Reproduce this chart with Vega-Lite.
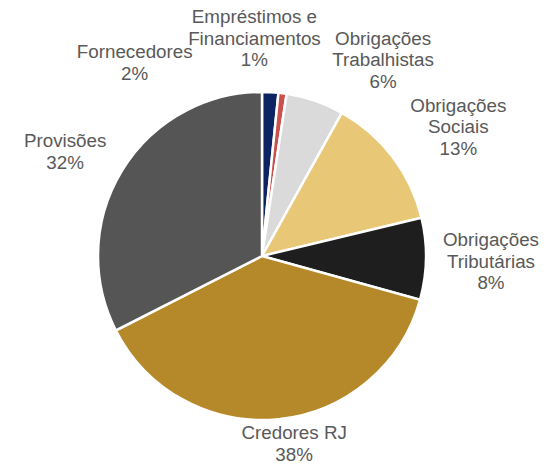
{
  "$schema": "https://vega.github.io/schema/vega-lite/v6.json",
  "width": 524,
  "height": 416,
  "autosize": {"type": "none"},
  "padding": {"left": 0, "top": 48, "right": 21, "bottom": 0},
  "background": "white",
  "view": {"stroke": null},
  "config": {
    "text": {"font": "Liberation Sans", "fontSize": 18.8, "fill": "#595959", "lineBreak": "\n", "lineHeight": 21.5, "baseline": "middle", "align": "center"}
  },
  "data": {
    "values": [
      {"ordem": 1, "categoria": "Fornecedores", "valor": 1.6, "rotulo": "Fornecedores\n2%"},
      {"ordem": 2, "categoria": "Empréstimos e Financiamentos", "valor": 0.8, "rotulo": "Empréstimos e\nFinanciamentos\n1%"},
      {"ordem": 3, "categoria": "Obrigações Trabalhistas", "valor": 5.7, "rotulo": "Obrigações\nTrabalhistas\n6%"},
      {"ordem": 4, "categoria": "Obrigações Sociais", "valor": 13.15, "rotulo": "Obrigações\nSociais\n13%"},
      {"ordem": 5, "categoria": "Obrigações Tributárias", "valor": 8.05, "rotulo": "Obrigações\nTributárias\n8%"},
      {"ordem": 6, "categoria": "Credores RJ", "valor": 38.2, "rotulo": "Credores RJ\n38%"},
      {"ordem": 7, "categoria": "Provisões", "valor": 32.5, "rotulo": "Provisões\n32%"}
    ]
  },
  "encoding": {
    "theta": {"field": "valor", "type": "quantitative", "stack": true},
    "order": {"field": "ordem", "type": "quantitative"}
  },
  "layer": [
    {
      "mark": {"type": "arc", "outerRadius": 164, "stroke": "white", "strokeWidth": 2.5},
      "encoding": {
        "color": {
          "field": "categoria",
          "type": "nominal",
          "legend": null,
          "scale": {
            "domain": ["Fornecedores", "Empréstimos e Financiamentos", "Obrigações Trabalhistas", "Obrigações Sociais", "Obrigações Tributárias", "Credores RJ", "Provisões"],
            "range": ["#0C2461", "#C9504C", "#DADADA", "#E8C777", "#1E1E1E", "#B5882A", "#555555"]
          }
        }
      }
    },
    {
      "mark": {"type": "text", "radius": 193, "dx": -137, "dy": -11},
      "encoding": {"text": {"condition": {"test": "datum.categoria === 'Fornecedores'", "field": "rotulo"}, "value": ""}}
    },
    {
      "mark": {"type": "text", "radius": 219, "dx": -35, "dy": -21.5},
      "encoding": {"text": {"condition": {"test": "datum.categoria === 'Empréstimos e Financiamentos'", "field": "rotulo"}, "value": ""}}
    },
    {
      "mark": {"type": "text", "radius": 207, "dx": 54, "dy": -21.5},
      "encoding": {"text": {"condition": {"test": "datum.categoria === 'Obrigações Trabalhistas'", "field": "rotulo"}, "value": ""}}
    },
    {
      "mark": {"type": "text", "radius": 225, "dx": 17, "dy": -14.5},
      "encoding": {"text": {"condition": {"test": "datum.categoria === 'Obrigações Sociais'", "field": "rotulo"}, "value": ""}}
    },
    {
      "mark": {"type": "text", "radius": 229, "dx": 0, "dy": -19.5},
      "encoding": {"text": {"condition": {"test": "datum.categoria === 'Obrigações Tributárias'", "field": "rotulo"}, "value": ""}}
    },
    {
      "mark": {"type": "text", "radius": 191, "dx": 13, "dy": -13},
      "encoding": {"text": {"condition": {"test": "datum.categoria === 'Credores RJ'", "field": "rotulo"}, "value": ""}}
    },
    {
      "mark": {"type": "text", "radius": 225, "dx": -5, "dy": 3},
      "encoding": {"text": {"condition": {"test": "datum.categoria === 'Provisões'", "field": "rotulo"}, "value": ""}}
    }
  ]
}
